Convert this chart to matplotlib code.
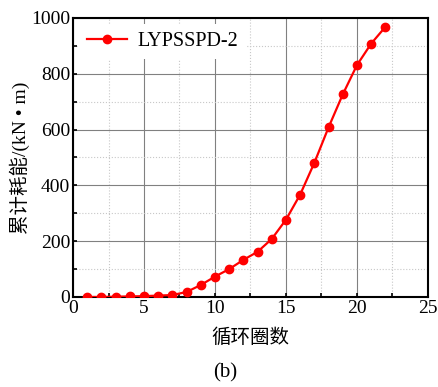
import matplotlib as mpl
mpl.use('agg')
import matplotlib.pyplot as plt
from matplotlib.ticker import MultipleLocator

cycles = [1, 2, 3, 4, 5, 6, 7, 8, 9, 10, 11, 12, 13, 14, 15, 16, 17, 18, 19, 20, 21, 22]
energy = [0, 0, 1, 2, 3, 5, 7, 18, 43, 73, 100, 133, 162, 208, 277, 367,
          481, 608, 726, 831, 908, 968]
series_name = 'LYPSSPD-2'

fam = ['Liberation Serif', 'Noto Sans CJK SC']
plt.rcParams['font.family'] = fam

fig = plt.figure(figsize=(4.38, 3.87), dpi=100)
ax = fig.add_axes([0.1667, 0.2326, 0.8103, 0.7209])

ax.plot(cycles, energy, color='#ff0000', lw=1.6, marker='o', ms=6,
        label=series_name, zorder=3)

ax.set_xlim(0, 25)
ax.set_ylim(0, 1000)
ax.xaxis.set_major_locator(MultipleLocator(5))
ax.xaxis.set_minor_locator(MultipleLocator(2.5))
ax.yaxis.set_major_locator(MultipleLocator(200))
ax.yaxis.set_minor_locator(MultipleLocator(100))

ax.grid(which='major', color='#808080', lw=0.8, ls='-')
ax.grid(which='minor', color='#c8c8c8', lw=0.8, ls=':')
ax.set_axisbelow(True)

ax.tick_params(which='both', direction='in', length=3, width=1.2,
               top=False, right=False, labelsize=14, pad=2)
for s in ax.spines.values():
    s.set_linewidth(1.5)

ax.set_xlabel('循环圈数', fontsize=14, labelpad=8)
ax.set_ylabel('累计耗能/(kN • m)', fontsize=14, labelpad=1)

leg = ax.legend(loc='upper left', frameon=True, fontsize=14.5, handlelength=2.0,
                borderaxespad=0.3, handletextpad=0.5, fancybox=False)
leg.get_frame().set_edgecolor('none')
leg.get_frame().set_facecolor('white')
leg.get_frame().set_alpha(1)

fig.text(0.514, 0.036, '(b)', ha='center', va='center', fontsize=15)

fig.savefig('out.png', dpi=100)
